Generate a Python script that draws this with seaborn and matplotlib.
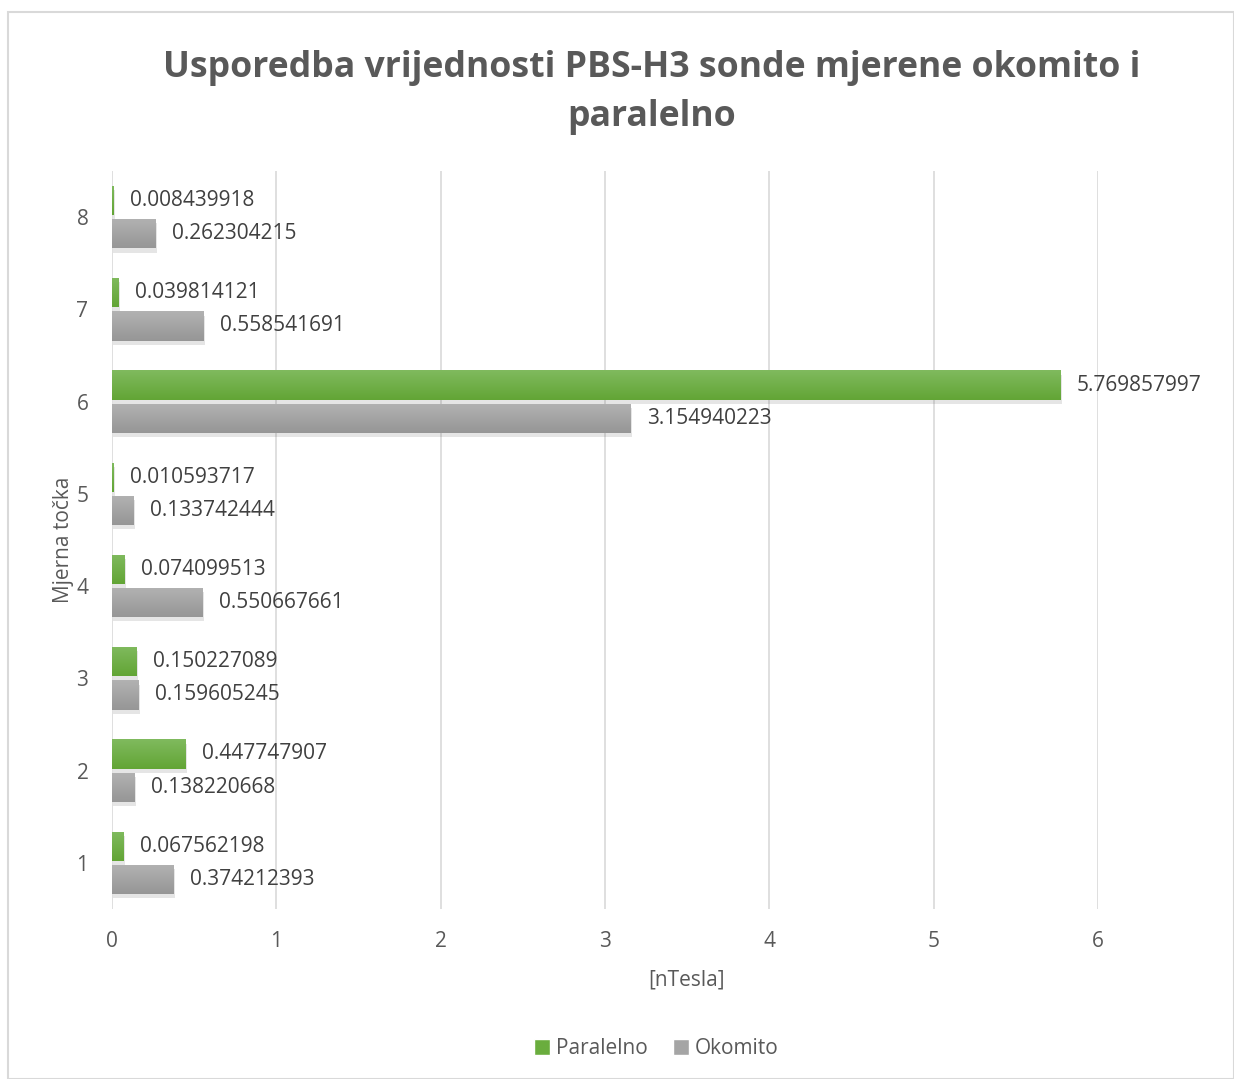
import matplotlib
matplotlib.use("Agg")
import matplotlib.pyplot as plt
import matplotlib.patheffects as pe
from matplotlib.colors import LinearSegmentedColormap
import numpy as np
import pandas as pd
import seaborn as sns

# Podaci
tocke = ["1", "2", "3", "4", "5", "6", "7", "8"]
paralelno = [0.067562198, 0.447747907, 0.150227089, 0.074099513,
             0.010593717, 5.769857997, 0.039814121, 0.008439918]
okomito = [0.374212393, 0.138220668, 0.159605245, 0.550667661,
           0.133742444, 3.154940223, 0.558541691, 0.262304215]
serije = ["Paralelno", "Okomito"]
boje = ["#6AAD3E", "#A5A5A5"]
gradijenti = [("#80BA5E", "#62A535"), ("#B2B2B2", "#969696")]

df = pd.DataFrame({
    "tocka": tocke * 2,
    "vrijednost": paralelno + okomito,
    "serija": [serije[0]] * len(tocke) + [serije[1]] * len(tocke),
})

sns.set_style("white")
plt.rcParams["font.family"] = ["Open Sans", "DejaVu Sans"]

fig = plt.figure(figsize=(12.34, 10.79), dpi=100)
ax = fig.add_axes([0.0908, 0.1576, 0.7990, 0.6839])

redoslijed = tocke[::-1]
sns.barplot(data=df, x="vrijednost", y="tocka", hue="serija", orient="h",
            order=redoslijed, hue_order=serije, palette=boje,
            width=0.72, gap=0.12, saturation=1, ax=ax, legend=True)

# gradijent i sjena na stupcima
grad = np.linspace(0, 1, 64).reshape(-1, 1)
for cont, (c1, c2) in zip(ax.containers, gradijenti):
    cmap = LinearSegmentedColormap.from_list("g", [c1, c2])
    for rect in cont:
        rect.set_linewidth(0)
        rect.set_path_effects([pe.SimplePatchShadow(offset=(1, -3), alpha=0.15,
                                                    shadow_rgbFace="#555555"),
                               pe.Normal()])
        x0, y0 = rect.get_x(), rect.get_y()
        w, h = rect.get_width(), rect.get_height()
        im = ax.imshow(grad, cmap=cmap, aspect="auto",
                       extent=(x0, x0 + w, y0 + h, y0), zorder=rect.get_zorder() + 0.1)
        im.set_clip_path(rect)

# oznake vrijednosti
for cont in ax.containers:
    for rect in cont:
        w = rect.get_width()
        ax.text(w + 0.1, rect.get_y() + rect.get_height() / 2,
                f"{w:.9f}", va="center", ha="left", fontsize=15,
                color="#404040", clip_on=False)

ax.set_xlim(0, 6)
ax.set_ylim(7.5, -0.5)
ax.set_xticks(range(0, 7))
ax.grid(axis="x", color="#D9D9D9", linewidth=1.2)
ax.set_axisbelow(True)
for s in ax.spines.values():
    s.set_visible(False)
ax.tick_params(axis="both", length=0, labelsize=15, labelcolor="#595959")
ax.tick_params(axis="x", pad=16)
ax.tick_params(axis="y", pad=17)

ax.set_xlabel("[nTesla]", fontsize=15, color="#595959")
ax.xaxis.set_label_coords(0.583, -0.082)
ax.set_ylabel("Mjerna točka", fontsize=15, color="#595959", labelpad=2)

fig.suptitle("Usporedba vrijednosti PBS-H3 sonde mjerene okomito i\nparalelno",
             fontsize=25.7, fontweight="bold", color="#595959", y=0.954,
             x=0.528, linespacing=1.5)

handles, labels = ax.get_legend_handles_labels()
ax.legend(handles, labels, loc="center", bbox_to_anchor=(0.532, 0.028),
          bbox_transform=fig.transFigure, ncol=2, frameon=False,
          fontsize=15, labelcolor="#595959", handlelength=0.75,
          handleheight=0.75, handletextpad=0.3, columnspacing=1.2)

# okvir grafikona
fig.patches.append(plt.Rectangle((8 / 1234, 0), 1 - 8 / 1234, 1 - 12 / 1079,
                                 transform=fig.transFigure, fill=False,
                                 edgecolor="#D9D9D9", linewidth=1.5))

fig.savefig("out.png", dpi=100)
